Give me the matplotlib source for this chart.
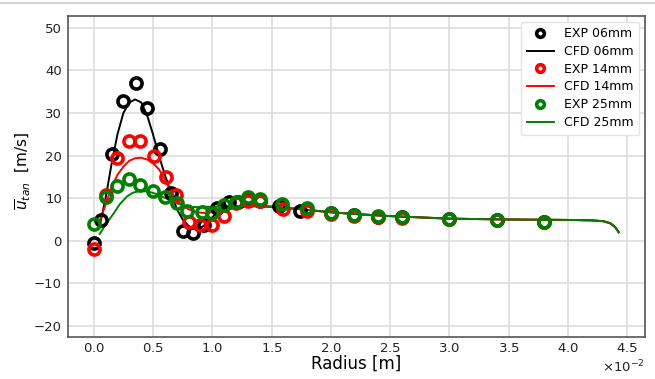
import numpy as np
import matplotlib
matplotlib.use("Agg")
from matplotlib import pyplot as plt
from matplotlib.lines import Line2D

# experimental points (radius in 1e-2 m, velocity in m/s)
exp06_r = [0.0, 0.06, 0.15, 0.25, 0.36, 0.45, 0.56, 0.65, 0.75, 0.84, 0.93, 1.04, 1.14, 1.22,
           1.30, 1.40, 1.56, 1.74, 2.0, 2.2, 2.4, 2.6, 3.0, 3.4, 3.8]
exp06_u = [-0.5, 4.9, 20.3, 32.9, 37.0, 31.1, 21.6, 11.3, 2.2, 1.8, 3.8, 7.7, 9.2, 9.2,
           9.6, 9.3, 8.2, 6.9, 6.5, 6.0, 5.7, 5.5, 5.0, 4.8, 4.5]

exp14_r = [0.0, 0.10, 0.20, 0.30, 0.39, 0.51, 0.61, 0.69, 0.80, 0.90, 1.00, 1.10, 1.20,
           1.30, 1.40, 1.60, 1.80, 2.0, 2.2, 2.4, 2.6, 3.0, 3.4, 3.8]
exp14_u = [-2.0, 10.8, 19.4, 23.5, 23.5, 19.8, 15.0, 10.8, 4.4, 3.6, 3.6, 5.9, 8.8,
           9.3, 9.4, 7.4, 6.9, 6.4, 5.9, 5.6, 5.4, 5.0, 4.8, 4.4]

exp25_r = [0.0, 0.10, 0.20, 0.30, 0.39, 0.50, 0.60, 0.70, 0.79, 0.91, 1.00, 1.10, 1.20,
           1.30, 1.40, 1.59, 1.80, 2.0, 2.2, 2.4, 2.6, 3.0, 3.4, 3.8]
exp25_u = [4.0, 10.4, 12.9, 14.5, 13.1, 11.7, 10.2, 8.8, 6.9, 6.7, 6.5, 8.3, 9.2,
           10.2, 9.8, 8.7, 7.7, 6.6, 6.1, 5.8, 5.6, 5.0, 4.9, 4.5]

# CFD profiles
tail_r = [1.5, 1.75, 2.0, 2.25, 2.5, 2.75, 3.0, 3.5, 4.0, 4.2, 4.3, 4.36, 4.4, 4.43]
tail_u = [8.0, 7.4, 6.7, 6.2, 5.8, 5.5, 5.2, 5.0, 4.9, 4.8, 4.6, 4.1, 3.2, 2.0]

cfd06_r = [0.05, 0.1, 0.15, 0.2, 0.25, 0.3, 0.35, 0.4, 0.45, 0.5, 0.55, 0.6, 0.65, 0.7,
           0.75, 0.8, 0.85, 0.9, 0.95, 1.0, 1.05, 1.1, 1.2, 1.3, 1.4] + tail_r
cfd06_u = [3.5, 10.0, 18.0, 25.0, 30.0, 32.5, 33.2, 32.5, 29.5, 25.0, 20.0, 15.5, 11.5, 7.5,
           5.0, 3.5, 2.8, 3.0, 4.0, 5.5, 6.8, 7.5, 8.0, 8.2, 8.2] + tail_u

cfd14_r = [0.05, 0.1, 0.15, 0.2, 0.25, 0.3, 0.35, 0.4, 0.45, 0.5, 0.55, 0.6, 0.65, 0.7,
           0.75, 0.8, 0.85, 0.9, 0.95, 1.0, 1.07, 1.15, 1.25, 1.35] + tail_r
cfd14_u = [4.6, 8.5, 12.5, 15.5, 17.4, 18.8, 19.4, 19.5, 19.1, 18.2, 16.8, 14.5, 11.6, 9.6,
           8.3, 7.4, 6.9, 6.6, 6.5, 6.8, 7.6, 8.0, 8.1, 8.1] + tail_u

cfd25_r = [0.05, 0.1, 0.17, 0.22, 0.28, 0.33, 0.39, 0.44, 0.48, 0.54, 0.59, 0.65, 0.70,
           0.76, 0.81, 0.87, 0.93, 1.0, 1.1, 1.2, 1.3, 1.4] + tail_r
cfd25_u = [1.6, 3.8, 6.5, 8.6, 10.4, 11.3, 11.7, 11.6, 11.4, 10.9, 10.2, 9.5, 8.8,
           8.3, 8.0, 7.9, 8.0, 8.0, 8.1, 8.1, 8.1, 8.1] + tail_u

series = [("06mm", "k", exp06_r, exp06_u, cfd06_r, cfd06_u),
          ("14mm", "r", exp14_r, exp14_u, cfd14_r, cfd14_u),
          ("25mm", "g", exp25_r, exp25_u, cfd25_r, cfd25_u)]

fig = plt.figure(figsize=(6.55, 3.79), dpi=100)
ax = fig.add_axes([67.5 / 655, 1 - 337 / 379, (645 - 67.5) / 655, (337 - 16) / 379])

handles = []
for name, c, er, eu, cr, cu in series:
    ax.plot(np.array(cr) * 1e-2, cu, color=c, lw=1.4, zorder=3)
    ax.plot(np.array(er) * 1e-2, eu, ls="none", marker="o", ms=8, mfc="none",
            mec=c, mew=2.6, zorder=4)
    handles.append(Line2D([], [], ls="none", marker="o", ms=5.5, mfc="none", mec=c, mew=2.6,
                          label="EXP " + name))
    handles.append(Line2D([], [], color=c, lw=1.4, label="CFD " + name))

ax.set_ylim(-22.6, 52.8)
ax.set_yticks([-20, -10, 0, 10, 20, 30, 40, 50])
ax.set_xticks(np.arange(0, 0.0451, 0.005))
ax.ticklabel_format(axis="x", style="sci", scilimits=(-2, -2), useMathText=True)
ax.xaxis.get_offset_text().set_fontsize(9.5)
ax.grid(True, color="#dddddd", lw=1.2)
ax.set_axisbelow(True)
for s in ax.spines.values():
    s.set_color("#555555")
    s.set_linewidth(1.2)
ax.tick_params(labelsize=9.5, length=0, colors="#222222")
ax.tick_params(axis="x", pad=3.5)
ax.tick_params(axis="y", pad=4)
ax.set_xlabel("Radius [m]", fontsize=12, labelpad=0)
ax.set_ylabel(r"$\overline{u}_{tan}$  [m/s]", fontsize=11)
ax.yaxis.set_label_coords(-0.06, 0.517)

leg = ax.legend(handles=handles, loc="upper right", fontsize=9, handlelength=2.2,
                borderpad=0.45, labelspacing=0.38, handletextpad=0.8, framealpha=1,
                edgecolor="#e4e4e4", borderaxespad=0.45)

# screenshot border at the top
fig.add_artist(Line2D([0, 1], [1 - 3 / 379, 1 - 3 / 379], color="#cccccc", lw=1.2))

fig.savefig("out.png", dpi=100)
